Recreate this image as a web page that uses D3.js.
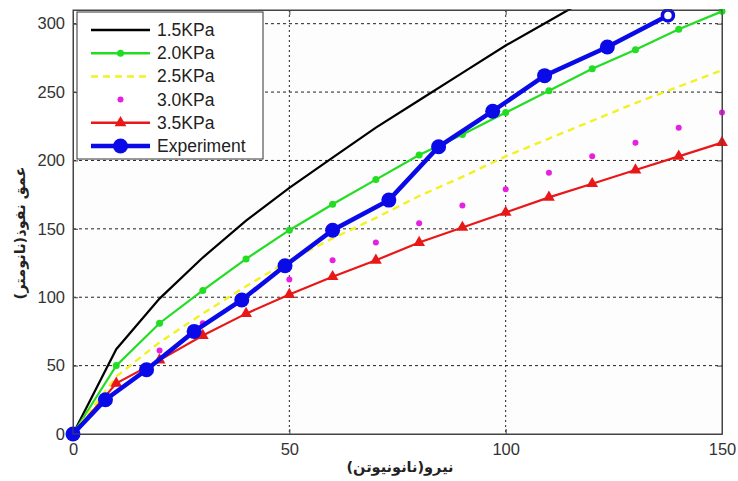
<!DOCTYPE html>
<html>
<head>
<meta charset="utf-8">
<script src="https://cdn.jsdelivr.net/npm/d3@7"></script>
<style>
  body { margin: 0; background: #fff; }
  svg { display: block; }
</style>
</head>
<body>
<svg></svg>
<script>
// valores
var xs = [0, 10, 20, 30, 40, 50, 60, 70, 80, 90, 100, 110, 120, 130, 140, 150];
var kpa15 = [0, 62, 99, 129, 156, 180, 202, 224, 244, 264, 284, 302, 320, 337, 354, 370];
var kpa20 = [0, 50, 81, 105, 128, 149, 168, 186, 204, 219, 235, 251, 267, 281, 296, 309];
var kpa25 = [0, 42, 67, 88, 108, 127, 143, 158, 174, 188, 203, 216, 229, 242, 254, 266];
var kpa30 = [0, 37, 61, 81, 98, 113, 127, 140, 154, 167, 179, 191, 203, 213, 224, 235];
var kpa35 = [0, 37, 54, 72, 88, 102, 115, 127, 140, 151, 162, 173, 183, 193, 203, 213];
var expX = [0, 7.5, 17, 28, 39, 49, 60, 73, 84.5, 97, 109, 123.5, 137.5];
var expY = [0, 25, 47, 75, 98, 123, 149, 171, 210, 236, 262, 283, 306];
var xTicks = [0, 50, 100, 150];
var yTicks = [0, 50, 100, 150, 200, 250, 300];
var legendNames = ["1.5KPa", "2.0KPa", "2.5KPa", "3.0KPa", "3.5KPa", "Experiment"];

var W = 738, H = 481;
var margin = { top: 10, right: 16, bottom: 47, left: 73 },
    width = W - margin.left - margin.right,
    height = H - margin.top - margin.bottom;

var svg = d3.select("svg")
    .attr("width", W)
    .attr("height", H)
    .attr("font-family", "Liberation Sans, Arial, sans-serif");

var x = d3.scaleLinear().domain([0, 150]).range([0, width]);
var y = d3.scaleLinear().domain([0, 310]).range([height, 0]);

var g = svg.append("g")
    .attr("transform", "translate(" + margin.left + "," + margin.top + ")");

g.append("rect")
    .attr("width", width).attr("height", height)
    .attr("fill", "#fdfdfd");

g.append("clipPath").attr("id", "clip")
  .append("rect").attr("x", -10).attr("y", -1).attr("width", width + 20).attr("height", height + 10);

// rejilla punteada
g.selectAll(".gx").data(xTicks.slice(1, -1)).enter().append("line")
    .attr("x1", x).attr("x2", x).attr("y1", 0).attr("y2", height)
    .attr("stroke", "#222").attr("stroke-width", 1).attr("stroke-dasharray", "2,3");
g.selectAll(".gy").data(yTicks.slice(1)).enter().append("line")
    .attr("y1", y).attr("y2", y).attr("x1", 0).attr("x2", width)
    .attr("stroke", "#222").attr("stroke-width", 1).attr("stroke-dasharray", "3,3");

// ejes
var xAxis = g.append("g").attr("transform", "translate(0," + height + ")")
    .call(d3.axisBottom(x).tickValues(xTicks).tickSizeInner(-5).tickSizeOuter(0).tickPadding(9));
var xTop = g.append("g")
    .call(d3.axisTop(x).tickValues(xTicks).tickSizeInner(-5).tickSizeOuter(0).tickFormat(""));
var yAxis = g.append("g")
    .call(d3.axisLeft(y).tickValues(yTicks).tickSizeInner(-5).tickSizeOuter(0).tickPadding(8));
var yRight = g.append("g").attr("transform", "translate(" + width + ",0)")
    .call(d3.axisRight(y).tickValues(yTicks).tickSizeInner(-5).tickSizeOuter(0).tickFormat(""));
[xAxis, xTop, yAxis, yRight].forEach(function(a) {
  a.selectAll("path").attr("stroke", "#444");
  a.selectAll("line").attr("stroke", "#444");
  a.selectAll("text").attr("font-size", 16.5).attr("fill", "#333");
});

var plot = g.append("g").attr("clip-path", "url(#clip)");
var line = d3.line().x(function(d) { return x(d[0]); }).y(function(d) { return y(d[1]); });
function pairs(xv, yv) { return xv.map(function(v, i) { return [v, yv[i]]; }); }

// 1.5KPa
plot.append("path").datum(pairs(xs, kpa15)).attr("d", line)
    .attr("fill", "none").attr("stroke", "#000").attr("stroke-width", 2.2);
// 2.0KPa
plot.append("path").datum(pairs(xs, kpa20)).attr("d", line)
    .attr("fill", "none").attr("stroke", "#22dd22").attr("stroke-width", 2.2);
plot.selectAll(".p20").data(pairs(xs, kpa20)).enter().append("circle")
    .attr("cx", function(d) { return x(d[0]); }).attr("cy", function(d) { return y(d[1]); })
    .attr("r", 3.5).attr("fill", "#22dd22");
// 2.5KPa
plot.append("path").datum(pairs(xs, kpa25)).attr("d", line)
    .attr("fill", "none").attr("stroke", "#f2f222").attr("stroke-width", 2.4)
    .attr("stroke-dasharray", "7,5");
// 3.0KPa
plot.selectAll(".p30").data(pairs(xs, kpa30)).enter().append("circle")
    .attr("cx", function(d) { return x(d[0]); }).attr("cy", function(d) { return y(d[1]); })
    .attr("r", 3).attr("fill", "#e520e0");
// 3.5KPa
plot.append("path").datum(pairs(xs, kpa35)).attr("d", line)
    .attr("fill", "none").attr("stroke", "#e81818").attr("stroke-width", 2.2);
var tri = d3.symbol().type(d3.symbolTriangle).size(60);
plot.selectAll(".p35").data(pairs(xs, kpa35)).enter().append("path")
    .attr("d", tri)
    .attr("transform", function(d) { return "translate(" + x(d[0]) + "," + y(d[1]) + ")"; })
    .attr("fill", "#e81818");
// Experiment
var expData = pairs(expX, expY);
plot.append("path").datum(expData).attr("d", line)
    .attr("fill", "none").attr("stroke", "#0a0ae8").attr("stroke-width", 4.5);
plot.selectAll(".pe").data(expData).enter().append("circle")
    .attr("cx", function(d) { return x(d[0]); }).attr("cy", function(d) { return y(d[1]); })
    .attr("r", function(d, i) { return i === expData.length - 1 ? 5.5 : 7.5; })
    .attr("fill", function(d, i) { return i === expData.length - 1 ? "#fff" : "#0a0ae8"; })
    .attr("stroke", "#0a0ae8")
    .attr("stroke-width", function(d, i) { return i === expData.length - 1 ? 3.5 : 0; });

// marco
g.append("rect").attr("width", width).attr("height", height)
    .attr("fill", "none").attr("stroke", "#444").attr("stroke-width", 1);

// leyenda
var leg = svg.append("g").attr("transform", "translate(77,12)");
leg.append("rect").attr("width", 186).attr("height", 147)
    .attr("fill", "#fff").attr("stroke", "#333").attr("stroke-width", 1);
var rowY = function(i) { return 18 + i * 23.2; };
var lx1 = 14, lx2 = 73, lmid = (lx1 + lx2) / 2;
leg.selectAll(".lt").data(legendNames).enter().append("text")
    .attr("x", 80).attr("y", function(d, i) { return rowY(i) + 6; })
    .attr("font-size", 17.5).attr("fill", "#222")
    .text(function(d) { return d; });
function legLine(i, color, w, dash) {
  leg.append("line").attr("x1", lx1).attr("x2", lx2).attr("y1", rowY(i)).attr("y2", rowY(i))
    .attr("stroke", color).attr("stroke-width", w).attr("stroke-dasharray", dash || null);
}
legLine(0, "#000", 2.5);
legLine(1, "#22dd22", 2.5);
leg.append("circle").attr("cx", lmid).attr("cy", rowY(1)).attr("r", 3.5).attr("fill", "#22dd22");
legLine(2, "#f2f222", 2.5, "7,5");
leg.append("circle").attr("cx", lmid).attr("cy", rowY(3)).attr("r", 3).attr("fill", "#e520e0");
legLine(4, "#e81818", 2.5);
leg.append("path").attr("d", tri).attr("transform", "translate(" + lmid + "," + rowY(4) + ")").attr("fill", "#e81818");
legLine(5, "#0a0ae8", 4.5);
leg.append("circle").attr("cx", lmid).attr("cy", rowY(5)).attr("r", 7.5).attr("fill", "#0a0ae8");

// titulos de ejes
svg.append("text")
    .attr("x", 400).attr("y", 472)
    .attr("text-anchor", "middle")
    .attr("font-family", "DejaVu Sans, Noto Sans, sans-serif")
    .attr("font-size", 14.5).attr("font-weight", "bold").attr("fill", "#222")
    .text("نیرو(نانونیوتن)");
svg.append("text")
    .attr("transform", "translate(25,233) rotate(-90)")
    .attr("text-anchor", "middle")
    .attr("font-family", "DejaVu Sans, Noto Sans, sans-serif")
    .attr("font-size", 14.5).attr("font-weight", "bold").attr("fill", "#222")
    .text("عمق نفوذ(نانومتر)");
</script>
</body>
</html>
